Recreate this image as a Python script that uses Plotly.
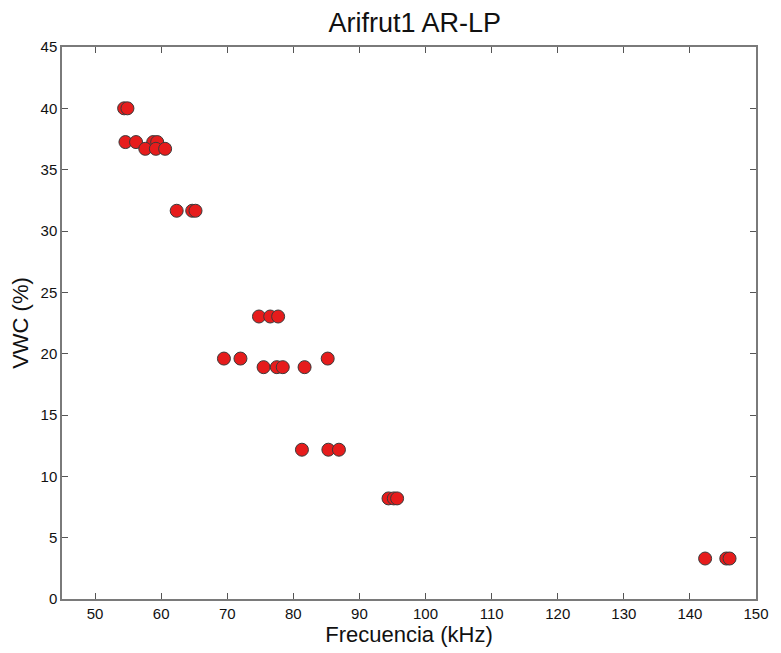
import plotly.graph_objects as go

freq_khz = [54.4, 54.9,
            54.6, 56.2, 58.8, 59.4,
            57.6, 59.2, 60.6,
            62.35, 64.7, 65.2,
            74.8, 76.5, 77.7,
            69.5, 72.0, 85.2,
            75.5, 77.5, 78.4, 81.7,
            81.3, 85.3, 86.9,
            94.4, 95.2, 95.7,
            142.3, 145.5, 146.0]
vwc_pct = [40.0, 40.0,
           37.25, 37.25, 37.25, 37.25,
           36.7, 36.7, 36.7,
           31.65, 31.65, 31.65,
           23.03, 23.03, 23.03,
           19.6, 19.6, 19.6,
           18.9, 18.9, 18.9, 18.9,
           12.17, 12.17, 12.17,
           8.2, 8.2, 8.2,
           3.3, 3.3, 3.3]

x_ticks = list(range(50, 151, 10))
y_ticks = list(range(0, 46, 5))

FONT = "Liberation Sans, Arial, sans-serif"

fig = go.Figure(go.Scatter(
    x=freq_khz, y=vwc_pct, mode="markers",
    marker=dict(size=13, color="#e61c1c", line=dict(color="#3a3a3a", width=1)),
))

axis_common = dict(
    showline=True, linecolor="#7a7a7a", linewidth=1.5, mirror="ticks",
    ticks="inside", ticklen=6, tickcolor="#555555", tickwidth=1,
    showgrid=False, zeroline=False,
    tickfont=dict(family=FONT, size=15, color="#111111"),
)

fig.update_layout(
    width=781, height=653,
    paper_bgcolor="white", plot_bgcolor="white",
    margin=dict(l=62, r=15, t=47, b=51),
    showlegend=False,
    title=dict(text="Arifrut1 AR-LP", x=0.531, xanchor="center", y=0.965, yanchor="middle",
               font=dict(family=FONT, size=27, color="#111111")),
    xaxis=dict(range=[45, 150], tickvals=x_ticks,
               title=dict(text="Frecuencia (kHz)", standoff=4,
                          font=dict(family=FONT, size=22, color="#111111")),
               **axis_common),
    yaxis=dict(range=[0, 45], tickvals=y_ticks,
               title=dict(text="VWC (%)", standoff=6,
                          font=dict(family=FONT, size=22, color="#111111")),
               **axis_common),
)

fig.write_html(
    "out.html",
    config={"displayModeBar": False},
    post_script="document.body.style.margin='0';document.body.style.overflow='hidden';",
)
